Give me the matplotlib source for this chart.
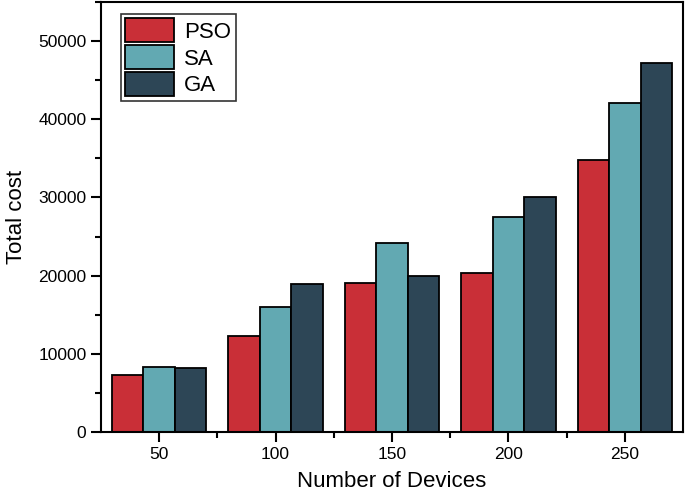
import matplotlib
matplotlib.use("Agg")
import matplotlib.pyplot as plt
import numpy as np
from matplotlib.ticker import MultipleLocator

plt.rcParams['font.family'] = ['Liberation Sans', 'DejaVu Sans']

devices = [50, 100, 150, 200, 250]
series_names = ["PSO", "SA", "GA"]
pso = [7300, 12300, 19100, 20400, 34800]
sa = [8350, 16000, 24150, 27500, 42050]
ga = [8150, 18900, 20000, 30050, 47150]
colors = ["#C92F37", "#62A9B2", "#2D4656"]

fig = plt.figure(figsize=(6.85, 4.95), dpi=100)
ax = fig.add_axes([101/685, 1 - 432/495, (683-101)/685, (432-2)/495])

width = 13.5
x = np.array(devices, dtype=float)
for i, (vals, name, c) in enumerate(zip([pso, sa, ga], series_names, colors)):
    ax.bar(x + (i - 1) * width, vals, width=width, color=c, edgecolor="black",
           linewidth=1.3, label=name, zorder=2)

ax.set_xlim(25, 275)
ax.set_ylim(0, 55000)
ax.set_xticks(devices)
ax.set_xticks([75, 125, 175, 225], minor=True)
ax.yaxis.set_major_locator(MultipleLocator(10000))
ax.yaxis.set_minor_locator(MultipleLocator(5000))
ax.tick_params(axis='both', which='major', direction='out', length=7, width=1.5, labelsize=12.5)
ax.tick_params(axis='both', which='minor', direction='out', length=4, width=1.5)
for s in ax.spines.values():
    s.set_linewidth(1.5)

ax.set_xlabel("Number of Devices", fontsize=16, labelpad=7)
ax.set_ylabel("Total cost", fontsize=16, labelpad=8)

leg = ax.legend(loc="upper left", bbox_to_anchor=(0.034, 0.972), fontsize=16,
                handlelength=2.2, handleheight=1.25, handletextpad=0.45,
                labelspacing=0.12, borderpad=0.2, frameon=True, fancybox=False,
                borderaxespad=0)
leg.get_frame().set_edgecolor("black")
leg.get_frame().set_linewidth(1.2)

fig.savefig("out.png", dpi=100)
